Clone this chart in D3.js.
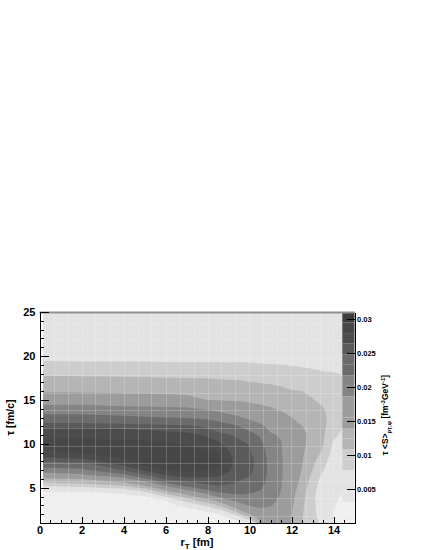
<!DOCTYPE html>
<html lang="en">
<head>
<meta charset="utf-8">
<title>tau S vs rT</title>
<style>
  body { margin: 0; background: #fff; }
  svg { display: block; font-family: "Liberation Sans", Arial, sans-serif; font-weight: bold; }
  .axis path, .axis line { stroke: #000; shape-rendering: crispEdges; }
  .axis text { fill: #000; font-size: 11px; }
  .zaxis text { font-size: 7.5px; }
  .grid line { stroke: #fff; stroke-opacity: 0.2; shape-rendering: crispEdges; }
</style>
</head>
<body>
<svg id="chart" width="425" height="550"></svg>
<script src="https://cdn.jsdelivr.net/npm/d3@7"></script>
<script>

// grid nodes of the histogram
var rT = [0, 2, 4, 5, 6, 7, 8, 8.5, 9, 9.5, 10, 10.5, 11, 11.5, 12, 12.5, 13, 13.5, 14, 14.5];
var tau = [1, 1.5, 2, 2.5, 3, 3.5, 4, 4.5, 5, 5.5, 6, 6.5, 7, 7.5, 8, 8.5, 9, 10, 11, 12, 13, 14, 15, 16, 17, 18, 19, 20, 22, 25];

// tau <S> in 1e-3 fm^-3 GeV^-1, one row per tau value, one column per rT value
var density = [
  [1.3, 1.2, 1.1, 1.1, 1.1, 1.0, 1.0, 1.0, 1.5, 2.0, 3.1, 14.3, 15.5, 16.0, 13.9, 11.0, 8.3, 7.4, 3.2, 2.5],
  [1.4, 1.3, 1.2, 1.2, 1.2, 1.1, 1.4, 1.8, 2.3, 5.1, 10.1, 15.2, 16.3, 16.4, 14.0, 11.1, 8.2, 7.2, 3.15, 2.4],
  [1.5, 1.4, 1.3, 1.3, 1.35, 1.3, 2.0, 2.8, 6.0, 10.1, 13.95, 16.3, 17.1, 16.8, 14.1, 11.2, 8.2, 7.0, 3.15, 2.4],
  [1.7, 1.6, 1.5, 1.45, 1.6, 1.9, 4.1, 7.2, 10.15, 13.95, 16.5, 18.2, 18.0, 17.2, 14.25, 11.35, 8.25, 6.7, 3.15, 2.5],
  [1.9, 1.8, 1.7, 1.7, 2.0, 4.1, 8.8, 10.85, 13.95, 17.3, 18.8, 19.15, 18.8, 17.6, 14.45, 11.5, 8.3, 6.4, 3.2, 2.6],
  [2.2, 2.1, 2.0, 2.05, 2.8, 8.8, 12.2, 14.4, 17.8, 19.5, 19.9, 19.9, 19.3, 18.0, 14.65, 11.7, 8.4, 5.9, 3.3, 2.7],
  [2.5, 2.4, 2.4, 2.7, 7.75, 12.2, 16.3, 18.9, 20.4, 21.1, 21.05, 20.6, 19.7, 18.3, 14.9, 11.9, 8.5, 5.5, 3.45, 2.85],
  [2.7, 2.8, 3.7, 7.2, 12.0, 16.5, 20.15, 21.7, 22.3, 22.4, 22.0, 21.3, 20.0, 18.5, 15.2, 12.15, 8.75, 5.6, 3.7, 3.0],
  [6.4, 7.1, 8.9, 11.6, 16.85, 20.7, 23.1, 24.3, 23.9, 23.5, 22.85, 22.2, 20.2, 18.7, 15.5, 12.45, 9.0, 5.9, 4.0, 3.3],
  [10.2, 10.85, 12.8, 16.3, 21.3, 23.9, 25.15, 25.3, 25.0, 24.6, 23.65, 22.8, 20.4, 18.85, 15.8, 12.8, 9.4, 6.2, 4.3, 3.6],
  [13.3, 13.95, 17.6, 20.9, 24.95, 25.9, 26.0, 26.0, 25.5, 25.0, 24.5, 23.3, 20.5, 18.95, 16.05, 13.15, 9.8, 6.5, 4.6, 3.9],
  [17.1, 18.2, 21.35, 24.8, 26.5, 27.1, 26.9, 26.6, 26.05, 25.3, 25.0, 23.6, 20.6, 19.0, 16.3, 13.5, 10.3, 7.2, 4.9, 4.1],
  [20.15, 20.9, 24.8, 26.6, 27.9, 28.1, 27.9, 27.4, 26.5, 25.5, 25.3, 23.8, 20.6, 19.0, 16.45, 13.8, 10.85, 7.9, 5.3, 4.4],
  [22.6, 23.4, 26.35, 27.9, 28.5, 28.6, 28.4, 28.0, 26.8, 25.6, 25.4, 23.9, 20.6, 19.0, 16.55, 14.0, 11.2, 8.4, 5.6, 4.7],
  [24.8, 25.4, 27.45, 28.5, 28.8, 28.9, 28.6, 28.2, 26.9, 25.6, 25.4, 23.9, 20.5, 18.95, 16.6, 14.15, 11.6, 9.0, 5.9, 5.0],
  [26.35, 26.9, 28.2, 28.8, 28.9, 28.8, 28.5, 28.1, 26.8, 25.5, 25.3, 23.8, 20.4, 18.9, 16.6, 14.25, 12.0, 9.7, 6.2, 5.3],
  [27.45, 28.0, 28.6, 28.8, 28.8, 28.6, 28.2, 27.9, 26.55, 25.5, 25.1, 23.5, 20.2, 18.8, 16.55, 14.3, 12.4, 10.4, 6.6, 5.6],
  [28.4, 28.6, 28.4, 28.4, 28.1, 27.8, 27.2, 26.7, 25.8, 25.3, 24.7, 22.7, 19.6, 18.8, 16.4, 14.6, 13.0, 11.0, 7.3, 6.2],
  [27.4, 27.4, 27.3, 27.2, 27.0, 26.8, 26.1, 25.6, 24.95, 24.4, 22.7, 21.3, 19.0, 18.3, 16.0, 14.5, 13.3, 11.3, 8.3, 7.0],
  [26.1, 26.1, 25.9, 25.7, 25.5, 25.2, 24.4, 23.4, 22.5, 21.7, 20.6, 19.4, 17.7, 16.5, 15.1, 14.0, 13.3, 11.5, 9.3, 7.7],
  [22.6, 22.6, 22.2, 21.95, 21.7, 21.45, 20.9, 20.5, 19.9, 18.9, 17.9, 17.1, 15.95, 15.0, 14.0, 13.1, 12.9, 11.4, 9.8, 8.3],
  [19.9, 20.0, 19.55, 19.4, 19.3, 19.1, 18.2, 17.6, 16.8, 16.0, 15.3, 14.7, 14.2, 13.6, 13.0, 12.3, 12.0, 11.0, 9.9, 8.6],
  [16.9, 16.8, 16.05, 15.85, 15.65, 15.2, 13.95, 13.8, 13.7, 13.6, 13.35, 13.1, 12.85, 12.5, 12.0, 11.5, 11.0, 10.3, 9.6, 8.6],
  [13.5, 13.4, 13.25, 13.2, 13.1, 12.95, 12.7, 12.6, 12.5, 12.4, 12.15, 11.95, 11.8, 11.45, 11.05, 10.85, 10.4, 9.7, 9.2, 8.4],
  [12.0, 11.9, 11.8, 11.8, 11.7, 11.6, 11.5, 11.35, 11.3, 11.2, 10.95, 10.75, 10.6, 10.3, 9.8, 9.6, 9.4, 8.9, 8.6, 8.1],
  [10.5, 10.4, 10.3, 10.2, 10.1, 10.05, 10.0, 9.9, 9.8, 9.75, 9.6, 9.4, 9.25, 9.0, 8.8, 8.6, 8.4, 8.0, 7.9, 7.6],
  [8.65, 8.5, 8.5, 8.45, 8.4, 8.3, 8.3, 8.25, 8.2, 8.25, 8.2, 8.0, 7.9, 7.75, 7.6, 7.4, 7.2, 7.0, 6.9, 6.7],
  [6.6, 6.5, 6.5, 6.5, 6.4, 6.4, 6.4, 6.4, 6.4, 6.4, 6.4, 6.3, 6.3, 6.2, 6.2, 6.1, 6.0, 5.9, 5.8, 5.7],
  [5.4, 5.3, 5.3, 5.3, 5.3, 5.2, 5.2, 5.2, 5.2, 5.2, 5.2, 5.2, 5.1, 5.1, 5.1, 5.1, 5.1, 5.0, 5.0, 4.9],
  [4.8, 4.7, 4.7, 4.7, 4.7, 4.7, 4.7, 4.7, 4.7, 4.7, 4.7, 4.7, 4.6, 4.6, 4.6, 4.6, 4.6, 4.6, 4.5, 4.5]
];
var zUnit = 1e-3;

// palette: 20 contour levels from 0 to zMax, grey scale
var zMax = 0.031;
var nLevels = 20;
var levelColors = ["#efefef", "#efefef", "#e3e3e3", "#e3e3e3", "#e3e3e3",
                   "#cdcdcd", "#cdcdcd", "#b5b5b5", "#b5b5b5", "#9c9c9c",
                   "#9c9c9c", "#9c9c9c", "#848484", "#848484", "#6c6c6c",
                   "#6c6c6c", "#5a5a5a", "#4c4c4c", "#474747", "#3d3d3d"];

var xTicks = [0, 2, 4, 6, 8, 10, 12, 14];
var yTicks = [5, 10, 15, 20, 25];
var zTicks = [0.005, 0.01, 0.015, 0.02, 0.025, 0.03];

var svg = d3.select("#chart"),
    frame = {left: 39.5, right: 354.5, top: 312, bottom: 523};

var x = d3.scaleLinear().domain([0, 15]).range([frame.left, frame.right]),
    y = d3.scaleLinear().domain([1, 25]).range([frame.bottom, frame.top]),
    z = d3.scaleLinear().domain([0, zMax]).range([frame.bottom, frame.top]);

// palette box sits inside the frame on the right
var palX0 = x(14.42), palX1 = frame.right;

svg.append("defs").append("clipPath").attr("id", "dataClip")
  .append("rect")
    .attr("x", x(0.19))
    .attr("y", frame.top)
    .attr("width", palX0 - x(0.19))
    .attr("height", frame.bottom - frame.top);

var plot = svg.append("g").attr("clip-path", "url(#dataClip)");

// contour bands
var n = rT.length, m = tau.length;
var thresholds = d3.range(1, nLevels).map(function(k) { return k * zMax / nLevels / zUnit; });
var bands = d3.contours().size([n, m]).thresholds(thresholds)(d3.merge(density));

// grid index -> physical coordinate (nodes are not evenly spaced)
var col = d3.scaleLinear().domain(d3.range(n).map(function(i) { return i + 0.5; })).range(rT).clamp(true),
    row = d3.scaleLinear().domain(d3.range(m).map(function(j) { return j + 0.5; })).range(tau).clamp(true);

var path = d3.geoPath(d3.geoTransform({
  point: function(px, py) { this.stream.point(x(col(px)), y(row(py))); }
}));

plot.append("rect")
    .attr("x", x(0)).attr("y", frame.top)
    .attr("width", x(15) - x(0)).attr("height", frame.bottom - frame.top)
    .attr("fill", levelColors[0]);

plot.selectAll(".band")
  .data(bands)
  .enter().append("path")
    .attr("class", "band")
    .attr("d", path)
    .attr("fill", function(d, i) { return levelColors[i + 1]; });

// faint seams between the cells
var grid = plot.append("g").attr("class", "grid");
grid.selectAll(".gx")
  .data(d3.range(2 / 3, 15, 2 / 3))
  .enter().append("line")
    .attr("x1", function(d) { return Math.round(x(d)) + 0.5; })
    .attr("x2", function(d) { return Math.round(x(d)) + 0.5; })
    .attr("y1", frame.top).attr("y2", frame.bottom);
grid.selectAll(".gy")
  .data(d3.range(1.8, 25, 2))
  .enter().append("line")
    .attr("y1", function(d) { return Math.round(y(d)) + 0.5; })
    .attr("y2", function(d) { return Math.round(y(d)) + 0.5; })
    .attr("x1", frame.left).attr("x2", frame.right);

// palette
svg.append("g").selectAll("rect")
  .data(levelColors)
  .enter().append("rect")
    .attr("x", palX0)
    .attr("width", palX1 - palX0)
    .attr("y", function(d, k) { return z((k + 1) * zMax / nLevels); })
    .attr("height", function(d, k) { return z(k * zMax / nLevels) - z((k + 1) * zMax / nLevels); })
    .attr("fill", function(d) { return d; });

// top edge of the frame
svg.append("line")
    .attr("x1", frame.left).attr("x2", frame.right)
    .attr("y1", frame.top + 0.5).attr("y2", frame.top + 0.5)
    .attr("stroke", "#8f8f8f")
    .attr("stroke-width", 2);

// axes, ticks inside the frame
svg.append("g")
    .attr("class", "axis")
    .attr("transform", "translate(0," + frame.bottom + ")")
    .call(d3.axisBottom(x).tickValues(d3.range(0, 15.01, 0.5)).tickSize(-3.2).tickSizeOuter(0).tickFormat(""));

svg.append("g")
    .attr("class", "axis")
    .attr("transform", "translate(0," + frame.bottom + ")")
    .call(d3.axisBottom(x).tickValues(xTicks).tickSize(-6.3).tickSizeOuter(0).tickPadding(3.5));

svg.append("g")
    .attr("class", "axis")
    .attr("transform", "translate(" + frame.left + ",0)")
    .call(d3.axisLeft(y).tickValues(d3.range(1, 26)).tickSize(-4.7).tickSizeOuter(0).tickFormat(""));

svg.append("g")
    .attr("class", "axis")
    .attr("transform", "translate(" + frame.left + ",0)")
    .call(d3.axisLeft(y).tickValues(yTicks).tickSize(-9.5).tickSizeOuter(0).tickPadding(4));

svg.append("g")
    .attr("class", "axis zaxis")
    .attr("transform", "translate(" + palX1 + ",0)")
    .call(d3.axisRight(z).tickValues(zTicks).tickSize(-8).tickSizeOuter(0).tickPadding(2.5)
      .tickFormat(function(d) { return String(+d.toFixed(3)); }));

// axis titles
var xt = svg.append("text")
    .attr("x", x(7.5))
    .attr("y", 546)
    .attr("text-anchor", "middle")
    .style("font-size", "11px");
xt.append("tspan").text("r");
xt.append("tspan").attr("dy", 2.5).style("font-size", "8px").text("T");
xt.append("tspan").attr("dy", -2.5).text(" [fm]");

svg.append("text")
    .attr("transform", "translate(14," + y(13) + ") rotate(-90)")
    .attr("text-anchor", "middle")
    .style("font-size", "10.5px")
    .text("\u03c4 [fm/c]");

var zt = svg.append("text")
    .attr("transform", "translate(388,415) rotate(-90)")
    .attr("text-anchor", "middle")
    .style("font-size", "8.5px");
zt.append("tspan").text("\u03c4 <S>");
zt.append("tspan").attr("dy", 2.5).style("font-size", "6px").text("p");
zt.append("tspan").attr("dy", 1.5).style("font-size", "4.5px").text("T");
zt.append("tspan").attr("dy", -1.5).style("font-size", "6px").text(",\u03c6");
zt.append("tspan").attr("dy", -2.5).text(" [fm");
zt.append("tspan").attr("dy", -3).style("font-size", "6px").text("-3");
zt.append("tspan").attr("dy", 3).text("GeV");
zt.append("tspan").attr("dy", -3).style("font-size", "6px").text("-1");
zt.append("tspan").attr("dy", 3).text("]");

</script>
</body>
</html>
